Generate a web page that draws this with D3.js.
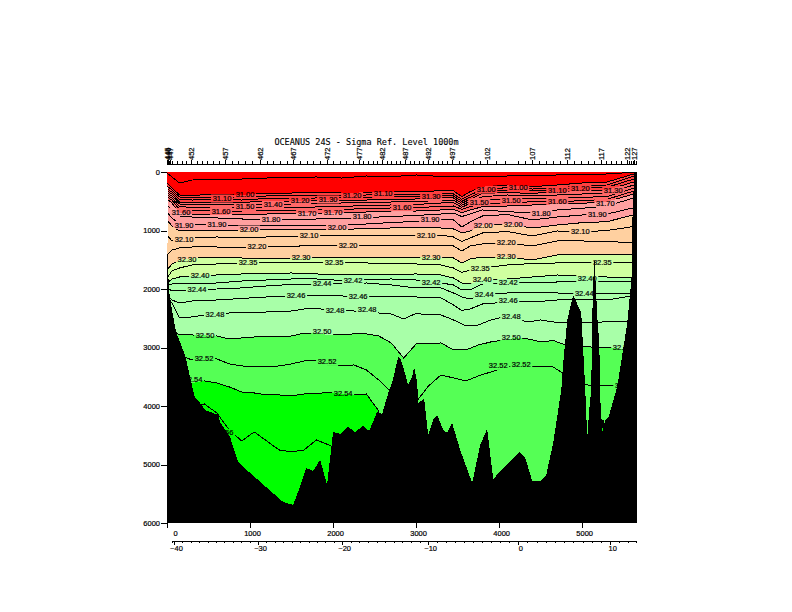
<!DOCTYPE html>
<html>
<head>
<meta charset="utf-8">
<script src="https://cdnjs.cloudflare.com/ajax/libs/d3/7.8.5/d3.min.js"></script>
<style>
html,body{margin:0;padding:0;background:#fff}
svg{display:block}
text{font-family:"Liberation Sans",Arial,sans-serif;fill:#000;stroke:#000;stroke-width:0.2px}
</style>
</head>
<body>
<div id="chart"></div>
<script>
const titleText = "OCEANUS 24S - Sigma Ref. Level 1000m";
const depthTicks = [0,1000,2000,3000,4000,5000,6000];
const distTicks = [0,1000,2000,3000,4000,5000];
const lonLabels = [-40,-30,-20,-10,0,10];
const lonMinor = [-40,-39,-38,-37,-36,-35,-34,-33,-32,-31,-30,-29,-28,-27,-26,-25,-24,-23,-22,-21,-20,-19,-18,-17,-16,-15,-14,-13,-12,-11,-10,-9,-8,-7,-6,-5,-4,-3,-2,-1,0,1,2,3,4,5,6,7,8,9,10,11,12,13];
const lonAnchors = [-40.6,-40,-30,-20,-10,0,10,13];
const lonAnchorKm = [60,84,1097,2109,3145,4230,5338,5651];

const stationKm = [0,12,24,36,60,120,181,229,289,361,422,482,554,627,699,783,856,940,1024,1121,1205,1277,1362,1446,1518,1603,1687,1759,1844,1928,2000,2085,2157,2241,2314,2362,2422,2482,2531,2591,2651,2699,2759,2808,2868,2928,2976,3037,3085,3145,3205,3266,3314,3374,3434,3519,3603,3687,3772,3856,3964,4073,4230,4314,4398,4483,4567,4651,4736,4820,4904,4989,5073,5145,5230,5290,5350,5410,5471,5543,5567,5591,5615,5627,5651];
const stationLabelKm = [0,12,36,289,699,1121,1518,1928,2314,2591,2868,3145,3434,3856,4398,4820,5230,5543,5627];
const stationLabels = ["445","446","447","452","457","462","467","472","477","482","487","492","497","102","107","112","117","122","127"];

const kmUpper = [0,60,150,300,600,900,1200,1500,1800,2100,2400,2700,3000,3300,3450,3550,3650,3800,4100,4400,4700,5000,5300,5660];
const s3080 = [17,85,188,137,128,120,103,94,85,103,68,80,51,77,77,77,85,85,68,63,51,39,34,0];
const s3100 = [188,273,393,402,376,393,359,359,354,359,347,337,337,320,320,422,337,251,222,251,222,188,171,17];
const s3110 = [239,308,427,444,427,436,410,410,402,402,393,385,385,368,376,467,393,296,268,291,261,239,222,51];
const s3120 = [291,342,470,479,470,479,453,453,444,444,436,427,419,410,410,501,432,330,308,325,296,279,261,103];
const s3130 = [325,376,513,521,513,521,496,496,487,487,479,470,461,444,444,535,467,364,354,364,342,320,308,154];
const s3140 = [359,410,547,564,564,564,555,547,530,530,521,513,504,487,479,569,501,422,393,410,393,376,364,205];
const s3150 = [393,444,590,607,615,615,607,607,598,590,572,564,555,530,525,603,535,479,470,449,449,432,422,256];
const s3160 = [427,479,641,658,667,667,658,658,649,641,624,615,607,590,581,637,593,535,530,508,508,490,467,308];
const s3170 = [461,530,701,718,735,718,718,701,709,701,684,675,667,649,637,696,649,593,581,564,552,535,508,359];
const s3180 = [564,649,752,769,786,803,820,820,803,795,778,761,743,718,701,761,718,649,678,701,649,620,581,427];
const s3190 = [684,786,889,906,897,923,923,923,906,906,889,863,846,820,820,940,855,752,726,820,769,735,718,598];
const s3200 = [820,923,1008,1008,1000,991,991,991,991,983,966,957,940,957,974,1042,1008,906,889,957,906,866,849,718];
const s3210 = [1077,1179,1162,1119,1111,1119,1111,1111,1094,1094,1094,1085,1085,1077,1111,1188,1128,1042,1017,1094,1008,1025,1000,923];
const s3220 = [1418,1333,1299,1282,1282,1299,1265,1273,1248,1256,1248,1248,1248,1248,1265,1350,1265,1230,1213,1265,1179,1179,1188,1213];
const s3230 = [1675,1572,1504,1470,1453,1470,1487,1470,1470,1470,1461,1453,1453,1470,1470,1555,1487,1453,1453,1504,1418,1418,1410,1401];
const s3235 = [1812,1692,1641,1589,1572,1555,1555,1555,1555,1555,1555,1564,1572,1589,1641,1718,1675,1641,1589,1564,1555,1555,1555,1555];
const s3240 = [1897,1829,1795,1777,1760,1743,1735,1726,1743,1760,1760,1752,1743,1760,1812,1897,1914,1846,1829,1795,1760,1777,1795,1795];
const s3242 = [1948,1914,1914,1914,1897,1863,1846,1829,1829,1854,1837,1829,1846,1897,1931,2017,2017,1914,1897,1897,1880,1880,1880,1880];
const s3244 = [1982,2034,2034,2017,2000,1982,1948,1922,1914,1914,1897,1931,1982,1982,2068,2136,2171,2102,2068,2068,2068,2085,2085,2085];
const s3246 = [2119,2188,2239,2205,2188,2162,2136,2119,2119,2119,2136,2136,2136,2153,2273,2367,2341,2256,2222,2222,2188,2188,2188,2102];

const kmDeep = [0,60,150,300,450,600,750,900,1050,1200,1350,1500,1650,1800,1950,2100,2250,2400,2550,2700,2850,3000,3150,3300,3450,3600,3750,3900,4050,4200,4350,4500,4650,4800,4950,5100,5250,5400,5660];
const s3248 = [2188,2239,2495,2478,2444,2427,2410,2410,2410,2393,2393,2376,2341,2333,2358,2376,2376,2393,2410,2427,2512,2418,2444,2444,2529,2632,2615,2529,2478,2512,2563,2529,2563,2580,2580,2580,2563,2563,2563];
const s3250 = [2615,2700,2786,2786,2794,2803,2854,2837,2820,2820,2820,2803,2752,2760,2786,2777,2768,2768,2803,2922,3179,2940,2940,2922,3042,3042,2957,2905,2871,2837,2854,2905,2880,2957,2974,2991,3008,3008,3076];
const s3252 = [2957,3042,3127,3213,3196,3196,3281,3315,3333,3333,3315,3281,3230,3230,3315,3315,3298,3384,3555,3760,3897,3931,3657,3469,3521,3572,3486,3418,3350,3315,3333,3333,3333,3469,3589,3657,3657,3657,3726];
const s3254 = [3384,3469,3555,3606,3572,3606,3674,3760,3777,3811,3811,3828,3794,3794,3760,3794,3811,3794,4085,6000,6000,6000,6000,6000,6000,6000,6000,6000,6000,6000,6000,6000,6000,6000,6000,6000,4240,6000,6000];
const s3256 = [3900,3950,3985,4000,3965,4119,4409,4597,4443,4597,4751,4785,4751,4580,4666,4785];

const bandColors = ["#ff0000","#ff4040","#ff6868","#ffa0a0","#ffd0a0","#d0ffa0","#a8ffa8","#55ff55","#00ff00"];

const labelTexts = ["31.10","31.00","31.50","31.40","31.20","31.30","31.20","31.10","31.60","31.60","31.70","31.70","31.80","31.80","31.90","31.90","32.00","32.00","32.10","32.10","32.20","32.20","32.30","32.35","32.30","32.35","31.30","31.00","31.00","31.10","31.20","31.30","31.50","31.50","31.60","31.70","31.60","31.80","31.90","31.90","32.00","32.00","32.10","32.10","32.20","32.30","32.30","32.35","32.35","32.40","32.44","32.46","32.44","32.42","32.46","32.48","32.48","32.48","32.50","32.50","32.52","32.52","32.54","32.54","32.42","32.40","32.42","32.44","32.46","32.48","32.50","32.52","32.52","32.44","32.40","32.50","32.52","32.56"];
const labelKm = [663,940,940,1277,1603,1940,2229,2603,169,651,1687,2000,1253,2350,205,602,988,2048,205,1711,1084,2181,241,976,1615,2012,3181,3844,4230,4700,4977,5374,3760,4145,4700,5278,2832,4507,3169,5182,3808,4169,3121,4977,4085,3181,4085,3772,5242,398,361,1554,1868,2241,2302,578,2024,2410,458,1868,446,1928,313,2121,3181,3796,4109,3820,4109,4145,4145,3989,4266,5025,5061,5482,5507,687];
const labelDepth = [453,385,598,564,479,470,410,376,684,667,701,684,820,769,906,897,983,957,1162,1094,1265,1248,1504,1555,1470,1555,427,299,273,308,282,308,513,479,496,530,615,701,820,735,923,889,1094,1025,1213,1470,1436,1658,1555,1769,2017,2111,1914,1863,2136,2444,2376,2358,2803,2734,3196,3247,3555,3794,1897,1846,1897,2102,2205,2478,2837,3315,3298,2085,1812,3008,3657,4460];

const groundKm = [0,24,60,108,217,277,337,398,458,615,639,759,856,1000,1205,1398,1518,1579,1675,1759,1844,1928,2000,2085,2181,2265,2362,2434,2531,2591,2675,2711,2784,2808,2844,2904,2952,2976,3013,3025,3097,3145,3205,3254,3326,3374,3434,3531,3675,3772,3856,3928,4242,4314,4398,4495,4567,4651,4748,4772,4820,4892,4989,5037,5061,5085,5109,5121,5145,5182,5206,5218,5242,5278,5314,5410,5435,5543,5603,5603,5627,5660,5660,0];
const groundDepth = [1213,2017,2358,2734,3127,3503,3862,3948,4068,4153,4273,4529,4956,5144,5400,5640,5691,5469,5059,5110,4922,5349,4443,4478,4358,4443,4341,4426,4102,4136,3726,3606,3162,3179,3333,3640,3503,3333,3606,3948,3879,4495,4238,4153,4409,4460,4290,4751,5315,4666,4392,5247,4785,4888,5281,5281,5178,4631,3726,3264,2529,2102,2410,3726,4546,4068,3726,2478,1418,2478,2922,3897,4443,4238,4204,3726,3555,2580,1675,872,0,0,6000,6000];
const unsampledKm = [0,16,16,0];
const unsampledDepth = [260,260,1213,1213];

const upperLines = [s3080,s3100,s3110,s3120,s3130,s3140,s3150,s3160,s3170,s3180,s3190,s3200,s3210,s3220,s3230,s3235,s3240,s3242,s3244,s3246];
const deepLines = [s3248,s3250,s3252,s3254,s3256];
const fillBounds = [[kmUpper,s3100,1],[kmUpper,s3130,2],[kmUpper,s3170,3],[kmUpper,s3200,4],[kmUpper,s3230,5],[kmUpper,s3240,6],[kmDeep,s3250,7],[kmDeep,s3254,8]];

const W = 792, H = 612;
const x = d3.scaleLinear([0,5660],[167,637]);
const y = d3.scaleLinear([0,6000],[172,523]);
const lonX = d3.scaleLinear(lonAnchors, lonAnchorKm.map(k => x(k)));

const svg = d3.select("#chart").append("svg").attr("width",W).attr("height",H).attr("viewBox",[0,0,W,H]);
const defs = svg.append("defs");
defs.append("clipPath").attr("id","plot").append("rect")
  .attr("x",x(0)).attr("y",y(0)).attr("width",x(5660)-x(0)).attr("height",y(6000)-y(0));
const mask = defs.append("mask").attr("id","gaps").attr("maskUnits","userSpaceOnUse")
  .attr("x",0).attr("y",0).attr("width",W).attr("height",H);
mask.append("rect").attr("width",W).attr("height",H).attr("fill","#fff");
mask.selectAll("rect.g").data(labelTexts).join("rect").attr("class","g")
  .attr("x",(d,i)=>x(labelKm[i])-11).attr("y",(d,i)=>y(labelDepth[i])-4)
  .attr("width",22).attr("height",8).attr("fill","#000");

const plot = svg.append("g").attr("clip-path","url(#plot)").attr("shape-rendering","crispEdges");
plot.append("rect").attr("x",x(0)).attr("y",y(0)).attr("width",x(5660)-x(0)).attr("height",y(6000)-y(0)).attr("fill",bandColors[0]);

const area = (grid,vals) => d3.area().x((d,i)=>x(grid[i])).y0(y(6000)).y1(d=>y(d))(vals);
plot.selectAll("path.band").data(fillBounds).join("path").attr("class","band")
  .attr("d",d=>area(d[0],d[1])).attr("fill",d=>bandColors[d[2]]);

const lineGrid = (grid,vals) => d3.line().x((d,i)=>x(grid[i])).y(d=>y(d))(vals);
const lines = plot.append("g").attr("mask","url(#gaps)").attr("fill","none").attr("stroke","#000").attr("stroke-width",1);
lines.selectAll("path.u").data(upperLines).join("path").attr("class","u").attr("d",d=>lineGrid(kmUpper,d));
lines.selectAll("path.d").data(deepLines).join("path").attr("class","d").attr("d",d=>lineGrid(kmDeep,d));

svg.append("g").attr("clip-path","url(#plot)").selectAll("text").data(labelTexts).join("text")
  .attr("x",(d,i)=>x(labelKm[i])).attr("y",(d,i)=>y(labelDepth[i])+2.5)
  .attr("text-anchor","middle").attr("font-size",7.5).text(d=>d);

const polyPath = (kms,deps) => d3.line().x(d=>x(d[0])).y(d=>y(d[1]))(d3.zip(kms,deps))+"Z";
svg.append("path").attr("shape-rendering","crispEdges").attr("fill","#fff").attr("d",polyPath(unsampledKm,unsampledDepth));
svg.append("path").attr("shape-rendering","crispEdges").attr("fill","#000").attr("d",polyPath(groundKm,groundDepth));

svg.append("text").attr("x",366.5).attr("y",144.5).attr("text-anchor","middle")
  .attr("font-size",8.5).style("font-family","'DejaVu Sans Mono',monospace").style("stroke-width","0.1px").text(titleText);

const styleAxis = g => { g.attr("shape-rendering","crispEdges"); g.selectAll("text").attr("font-size",7.5); };

svg.append("g").attr("transform",`translate(${x(0)},0)`)
  .call(d3.axisLeft(y).tickValues(depthTicks).tickSize(6).tickPadding(1).tickFormat(d3.format("d")))
  .call(styleAxis).call(g=>g.select(".domain").remove());

svg.append("g").attr("transform",`translate(0,${y(6000)})`)
  .call(d3.axisBottom(x).tickValues(distTicks).tickSize(5).tickPadding(3).tickFormat(d3.format("d")))
  .call(styleAxis).call(g=>g.select(".domain").remove())
  .call(g=>g.selectAll(".tick text").attr("dx",d=>d===0?8:2));

svg.append("g").attr("transform","translate(0,164)")
  .call(d3.axisTop(x).tickValues(stationKm).tickSize(3).tickFormat(""))
  .call(styleAxis).call(g=>g.select(".domain").attr("d",`M${x(0)},0H${x(5660)}`));

svg.append("g").attr("transform","translate(0,164)")
  .call(d3.axisTop(x).tickValues(stationLabelKm).tickSize(4).tickPadding(0).tickFormat((d,i)=>stationLabels[i]))
  .call(styleAxis).call(g=>g.select(".domain").remove())
  .call(g=>g.selectAll(".tick text").attr("text-anchor","start").attr("dy",0)
     .attr("transform","rotate(-90)").attr("x",4).attr("y",2.5));

svg.append("g").attr("transform","translate(0,541)")
  .call(d3.axisBottom(lonX).tickValues(lonMinor).tickSize(2).tickFormat(""))
  .call(styleAxis);
svg.append("g").attr("transform","translate(0,541)")
  .call(d3.axisBottom(lonX).tickValues(lonLabels).tickSize(4).tickPadding(1).tickFormat(d3.format("d")))
  .call(styleAxis).call(g=>g.select(".domain").remove())
  .call(g=>g.selectAll(".tick text").attr("dx",2));
</script>
</body>
</html>
